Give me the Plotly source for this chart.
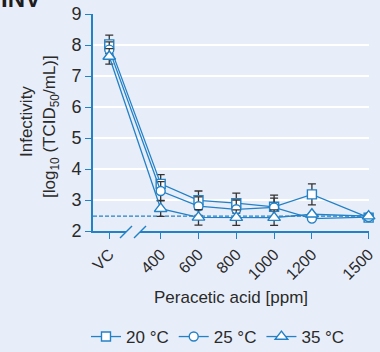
import plotly.graph_objects as go

categories = ["VC", "400", "600", "800", "1000", "1200", "1500"]
ppm = [128, 400, 600, 800, 1000, 1200, 1500]

t20 = [8.02, 3.52, 2.99, 2.90, 2.78, 3.18, 2.43]
t25 = [7.85, 3.29, 2.80, 2.70, 2.76, 2.40, 2.45]
t35 = [7.63, 2.72, 2.44, 2.43, 2.43, 2.54, 2.48]

e20 = [0.30, 0.30, 0.30, 0.32, 0.38, 0.34, 0.0]
e25 = [0.25, 0.30, 0.30, 0.30, 0.30, 0.0, 0.0]
e35 = [0.25, 0.25, 0.25, 0.25, 0.25, 0.0, 0.0]

detection_limit = 2.48

series = [("20 °C", t20, e20, "square", 9),
          ("25 °C", t25, e25, "circle", 9),
          ("35 °C", t35, e35, "triangle-up", 11)]

BLUE = "#2381c6"
BG = "#e8eef9"
TXT = "#2a2a2a"
FONT = "Liberation Sans, Arial, sans-serif"

L, R, T, B = 93, 11, 14, 121
PW, PH = 380 - L - R, 352 - T - B


def px(xp):
    return (xp - L) / PW


def py(yp):
    return (352 - B - yp) / PH


fig = go.Figure()
for name, vals, errs, sym, sz in series:
    fig.add_trace(go.Scatter(
        x=ppm, y=vals, name=name, mode="lines+markers", cliponaxis=False,
        line=dict(color=BLUE, width=1.3),
        marker=dict(symbol=sym, size=sz, color="white",
                    line=dict(color=BLUE, width=1.4)),
        error_y=dict(type="data", array=errs, visible=True,
                     color="#333333", thickness=1.3, width=4),
    ))

fig.add_shape(type="line", xref="paper", yref="y", x0=0, x1=1,
              y0=detection_limit, y1=detection_limit,
              line=dict(color=BLUE, width=1.3, dash="4px,2px"), layer="below")

# axis break: gap + slashes
fig.add_shape(type="rect", xref="paper", yref="paper",
              x0=px(126), x1=px(140), y0=py(229), y1=py(234),
              fillcolor=BG, line=dict(width=0), layer="above")
for xb in [126, 140]:
    fig.add_shape(type="line", xref="paper", yref="paper",
                  x0=px(xb - 6), x1=px(xb + 6), y0=py(238), y1=py(226),
                  line=dict(color=BLUE, width=1.4))

fig.add_annotation(text="<b>INV</b>", xref="paper", yref="paper",
                   x=px(-1), y=py(14), xanchor="left", yanchor="bottom",
                   showarrow=False, font=dict(size=24, color="#1e1e1e"))

fig.add_annotation(text="Infectivity", xref="paper", yref="paper",
                   x=px(27), y=py(122), xanchor="center", yanchor="middle",
                   textangle=-90, showarrow=False, font=dict(size=17, color=TXT))
fig.add_annotation(text="[log<sub>10</sub> (TCID<sub>50</sub>/mL)]", xref="paper", yref="paper",
                   x=px(51), y=py(127), xanchor="center", yanchor="middle",
                   textangle=-90, showarrow=False, font=dict(size=17, color=TXT))
fig.add_annotation(text="Peracetic acid [ppm]", xref="paper", yref="paper",
                   x=px(231), y=py(297), xanchor="center", yanchor="middle",
                   showarrow=False, font=dict(size=17, color=TXT))

fig.update_layout(
    width=380, height=352,
    margin=dict(l=L, r=R, t=T, b=B, autoexpand=False),
    paper_bgcolor=BG, plot_bgcolor=BG,
    font=dict(family=FONT, size=16, color=TXT),
    showlegend=True,
    legend=dict(orientation="h", x=px(86), xanchor="left", y=py(337), yanchor="middle",
                font=dict(size=17, color=TXT), itemwidth=30, tracegroupgap=0,
                bgcolor="rgba(0,0,0,0)"),
    xaxis=dict(range=[42, 1502], tickvals=ppm, ticktext=categories,
               tickangle=-45, showgrid=False, zeroline=False, automargin=False,
               showline=True, linecolor=BLUE, linewidth=1.6,
               ticks="outside", ticklen=6, tickcolor=BLUE, tickwidth=1.3,
               tickfont=dict(size=16, color=TXT)),
    yaxis=dict(range=[2, 9], dtick=1, showgrid=True, gridcolor="white", gridwidth=1.5,
               zeroline=False, showline=True, linecolor=BLUE, linewidth=1.6,
               automargin=False,
               ticks="outside", ticklen=6, tickcolor=BLUE, tickwidth=1.3,
               tickfont=dict(size=18, color=TXT)),
)

fig.write_html("out.html",
               config={"displayModeBar": False},
               post_script="document.body.style.margin='0px';document.body.style.background='" + BG + "';")
